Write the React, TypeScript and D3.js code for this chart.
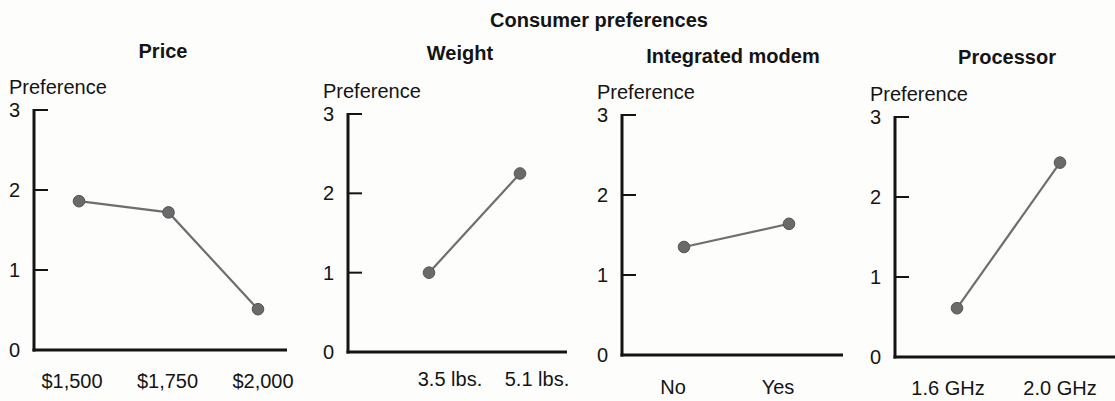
import React from "react";
import * as d3 from "d3";

// ---- data ----
const chartTitle = "Consumer preferences";
const axisLabel = "Preference";
const yTicks = [0, 1, 2, 3];

const priceCategories = ["$1,500", "$1,750", "$2,000"];
const priceValues = [1.86, 1.72, 0.51];

const weightCategories = ["3.5 lbs.", "5.1 lbs."];
const weightValues = [1.0, 2.25];

const modemCategories = ["No", "Yes"];
const modemValues = [1.35, 1.64];

const processorCategories = ["1.6 GHz", "2.0 GHz"];
const processorValues = [0.61, 2.43];

const panelTitles = ["Price", "Weight", "Integrated modem", "Processor"];

// ---- layout (positions only) ----
const layouts = [
  { axisX: 34, axisEnd: 287, y0: 350, y3: 110, pts: [79, 258], lbl: [72, 263], titleX: 163, titleY: 51, lblDy: 31 },
  { axisX: 348, axisEnd: 567, y0: 352, y3: 114, pts: [429, 520], lbl: [450, 537], titleX: 460, titleY: 53, lblDy: 27 },
  { axisX: 622, axisEnd: 843, y0: 355, y3: 115, pts: [684, 789], lbl: [673, 778], titleX: 733, titleY: 56, lblDy: 32 },
  { axisX: 895, axisEnd: 1120, y0: 357, y3: 117, pts: [957, 1060], lbl: [948, 1060], titleX: 1007, titleY: 57, lblDy: 31 },
];

const FONT = "'Liberation Sans', Arial, Helvetica, sans-serif";
const TEXT = "#141414";
const LINE = "#6e6e6e";
const DOT = "#6a6a6a";
const DOT_EDGE = "#555";

function Panel({ title, categories, values, L }: any) {
  const y = d3.scaleLinear().domain([0, 3]).range([L.y0, L.y3]);
  const xp = d3.scalePoint<string>().domain(categories).range(L.pts);
  const xl = d3.scalePoint<string>().domain(categories).range(L.lbl);
  const data = categories.map((c: string, i: number) => ({ c, v: values[i] }));
  const line = d3
    .line<any>()
    .x((d) => xp(d.c) as number)
    .y((d) => y(d.v));
  return (
    <g>
      <text x={L.titleX} y={L.titleY} textAnchor="middle" dominantBaseline="central"
        fontFamily={FONT} fontWeight="bold" fontSize={20} fill={TEXT}>{title}</text>
      <text x={L.axisX - 25} y={y(3) - 23} dominantBaseline="central"
        fontFamily={FONT} fontSize={20} fill={TEXT}>{axisLabel}</text>
      {yTicks.map((t) => (
        <g key={t}>
          <text x={L.axisX - 14} y={y(t)} textAnchor="end" dominantBaseline="central"
            fontFamily={FONT} fontSize={20} fill={TEXT}>{t}</text>
          {t > 0 && (
            <line x1={L.axisX} x2={L.axisX + 14} y1={y(t)} y2={y(t)} stroke={TEXT} strokeWidth={2} />
          )}
        </g>
      ))}
      <line x1={L.axisX} x2={L.axisX} y1={y(3) - 1} y2={y(0) + 1.5} stroke={TEXT} strokeWidth={3} />
      <line x1={L.axisX - 1.5} x2={L.axisEnd} y1={y(0)} y2={y(0)} stroke={TEXT} strokeWidth={3} />
      {categories.map((c: string) => (
        <text key={c} x={xl(c)} y={y(0) + L.lblDy} textAnchor="middle" dominantBaseline="central"
          fontFamily={FONT} fontSize={20} fill={TEXT}>{c}</text>
      ))}
      <path d={line(data) as string} fill="none" stroke={LINE} strokeWidth={2.2} />
      {data.map((d: any) => (
        <circle key={d.c} cx={xp(d.c)} cy={y(d.v)} r={5.8} fill={DOT} stroke={DOT_EDGE} strokeWidth={1} />
      ))}
    </g>
  );
}

export default function App() {
  const panels = [
    { categories: priceCategories, values: priceValues },
    { categories: weightCategories, values: weightValues },
    { categories: modemCategories, values: modemValues },
    { categories: processorCategories, values: processorValues },
  ];
  return (
    <svg width={1115} height={401} style={{ position: "absolute", left: 0, top: 0, background: "#fdfdfc" }}>
      <rect x={0} y={0} width={1115} height={401} fill="#fdfdfc" />
      <text x={599} y={20} textAnchor="middle" dominantBaseline="central"
        fontFamily={FONT} fontWeight="bold" fontSize={20} fill={TEXT}>{chartTitle}</text>
      {panels.map((p, i) => (
        <Panel key={i} title={panelTitles[i]} categories={p.categories} values={p.values} L={layouts[i]} />
      ))}
    </svg>
  );
}
